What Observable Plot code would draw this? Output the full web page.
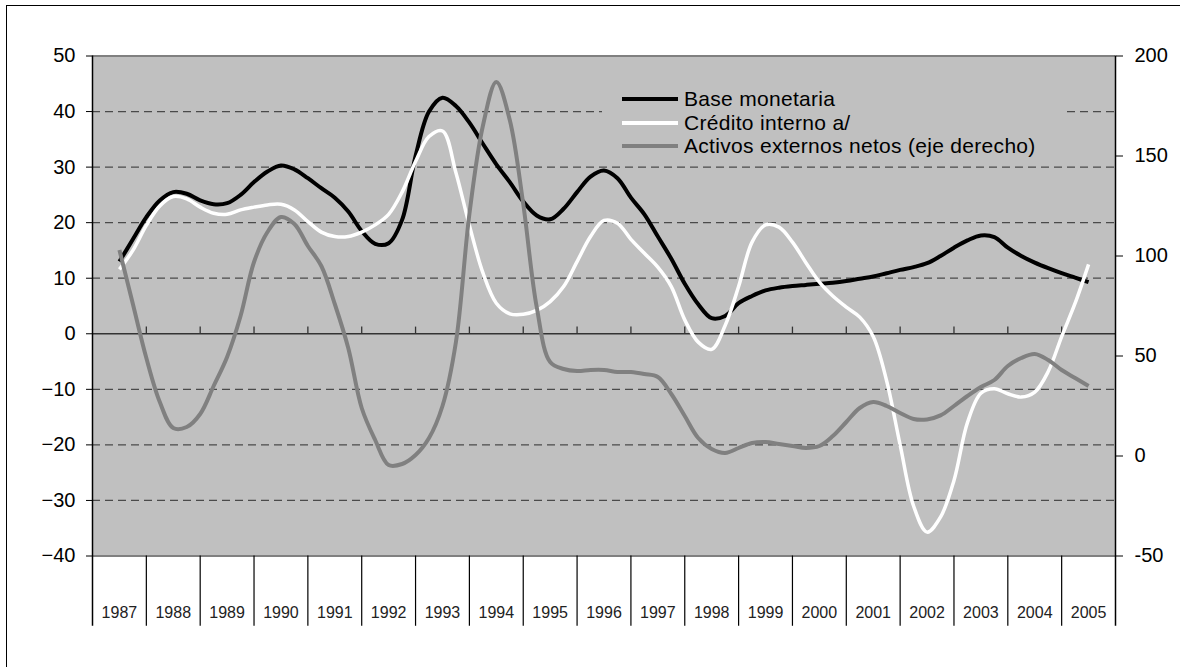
<!DOCTYPE html>
<html>
<head>
<meta charset="utf-8">
<script src="https://cdn.jsdelivr.net/npm/d3@7"></script>
<script src="https://cdn.jsdelivr.net/npm/@observablehq/plot@0.6"></script>
<style>
  html, body { margin: 0; padding: 0; background: #fff; overflow: hidden; }
  #wrap { position: relative; width: 1180px; height: 667px; font-family: "Liberation Sans", Arial, sans-serif; }
  #frame { position: absolute; left: 6px; top: 5px; width: 2000px; height: 2000px;
           border-left: 1.5px solid #000; border-top: 1.5px solid #000; pointer-events: none; }
  #legend { position: absolute; left: 602px; top: 86px; width: 462px; height: 72px; background: #c0c0c0; }
  .row { position: absolute; left: 0; height: 24px; width: 100%; }
  .swatch { position: absolute; left: 20px; top: 10px; width: 56px; height: 4px; }
  .lab { position: absolute; left: 82px; top: 0; line-height: 24px; font-size: 21px; letter-spacing: 0.3px; color: #000; white-space: nowrap; }
</style>
</head>
<body>
<div id="wrap"><div id="frame"></div><div id="chart"></div><div id="legend"></div></div>
<script>
// Year category labels
const yearLabels = ["1987","1988","1989","1990","1991","1992","1993","1994","1995","1996",
                    "1997","1998","1999","2000","2001","2002","2003","2004","2005"];
// Quarterly time grid (mid-1987 to mid-2005)
const times = d3.range(1987.5, 2005.51, 0.25);

// Base monetaria (left axis, %)
const baseMonetaria = [
  13.0, 17.0,
  21.0, 24.0, 25.5, 25.2,
  24.0, 23.3, 23.5, 25.0,
  27.3, 29.2, 30.3, 29.6,
  28.0, 26.2, 24.5, 22.0,
  18.5, 16.2, 16.3, 20.5,
  32.0, 40.0, 42.5, 41.0,
  38.0, 34.2, 30.5, 27.3,
  23.8, 21.3, 20.6, 22.5,
  25.5, 28.3, 29.4, 28.0,
  24.5, 21.5, 17.5, 13.5,
  9.0, 5.3, 2.8, 3.2,
  5.5, 6.8, 7.8, 8.3,
  8.6, 8.8, 9.0, 9.2,
  9.5, 9.9, 10.3, 10.9,
  11.5, 12.0, 12.7, 14.0,
  15.5, 16.8, 17.7, 17.4,
  15.5, 14.0, 12.8, 11.8,
  10.9, 10.1, 9.3
];
// Crédito interno a/ (left axis, %)
const creditoInterno = [
  11.6, 15.0,
  19.5, 23.0, 24.7, 24.3,
  22.8, 21.7, 21.5, 22.3,
  22.8, 23.2, 23.3, 22.3,
  20.2, 18.3, 17.5, 17.5,
  18.3, 19.6, 21.5, 25.5,
  31.0, 35.5, 36.5, 29.0,
  19.5, 11.0, 5.5, 3.6,
  3.5, 4.2, 5.8, 8.5,
  13.0, 17.5, 20.4, 19.9,
  17.0, 14.5, 12.0, 8.5,
  2.5, -1.5, -2.8, 1.5,
  8.5, 16.5, 19.6, 19.2,
  16.5, 12.8, 9.3, 6.8,
  4.8, 3.0, -0.5, -8.5,
  -20.0, -31.0, -35.7, -33.0,
  -26.4, -16.0, -10.7, -9.9,
  -10.8, -11.4, -10.5, -6.8,
  -0.5, 5.5, 12.5
];
// Activos externos netos (right axis)
const activosExternos = [
  103, 76,
  49, 27, 14, 14.5,
  21, 35, 49.5, 70,
  97, 112, 119.5, 116,
  105, 95, 76, 54,
  24, 8, -4.5, -4,
  0.5, 9, 25, 57,
  121, 165, 187, 168,
  126, 74.5, 47, 43.5,
  42.5, 43, 43, 42,
  42, 41, 39.5, 31,
  20, 9, 3.5, 1.5,
  4, 6.5, 7, 6,
  5, 4, 5, 10,
  17, 24, 27, 25,
  21.5, 18.5, 18.3, 20.3,
  25, 30, 34.5, 38,
  45, 49, 51, 48,
  43, 39, 35
];

const leftTicks = [50, 40, 30, 20, 10, 0, -10, -20, -30, -40];
const rightTicks = [200, 150, 100, 50, 0, -50];
const gridValues = [40, 30, 20, 10, -10, -20, -30];

// map right-axis values onto the left scale (200 <-> 50, -50 <-> -40)
const toLeft = r => -40 + (r + 50) * (90 / 250);
const toRight = l => (l + 40) * (250 / 90) - 50;

const series = [
  {name: "Base monetaria", color: "#000000", width: 4, values: baseMonetaria, map: v => v},
  {name: "Crédito interno a/", color: "#ffffff", width: 3.5, values: creditoInterno, map: v => v},
  {name: "Activos externos netos (eje derecho)", color: "#808080", width: 4, values: activosExternos, map: toLeft}
];
const rows = series.flatMap(s => times.map((t, i) => ({t, v: s.map(s.values[i]), name: s.name})));

const years = yearLabels.map(Number);
const bounds = [...years, years[years.length - 1] + 1];
const inner = bounds.slice(1, -1);
const yBottomExt = -52.65; // bottom of the category boxes (below the plot area)

const chart = Plot.plot({
  width: 1180,
  height: 667,
  marginLeft: 92,
  marginRight: 65,
  marginTop: 55.5,
  marginBottom: 111.5,
  style: {fontFamily: "'Liberation Sans', Arial, sans-serif", fontSize: "20px", background: "white", overflow: "visible"},
  x: {domain: [1987, 2006], axis: null},
  y: {domain: [-40, 50]},
  marks: [
    Plot.frame({fill: "#c0c0c0", stroke: null}),
    Plot.ruleY(gridValues, {stroke: "#4a4a4a", strokeWidth: 1.3, strokeDasharray: "8,5"}),
    Plot.ruleY([0], {stroke: "#333", strokeWidth: 1.5}),
    Plot.ruleX(inner, {y1: 0, y2: 1.2, stroke: "#333", strokeWidth: 1.3}),
    Plot.ruleY([50, -40], {stroke: "#808080", strokeWidth: 2}),
    Plot.ruleX(inner, {y1: -40, y2: yBottomExt, stroke: "#000", strokeWidth: 1.2}),
    Plot.ruleX([bounds[0], bounds[bounds.length - 1]], {y1: 50, y2: yBottomExt, stroke: "#000", strokeWidth: 1.5}),
    Plot.axisY({anchor: "left", ticks: leftTicks, tickSize: 6, tickPadding: 11, label: null, fontSize: 20, stroke: "#000"}),
    Plot.axisY({anchor: "right", ticks: rightTicks.map(toLeft), tickFormat: d => String(Math.round(toRight(d))),
                tickSize: 7, tickPadding: 12, label: null, fontSize: 20, stroke: "#000"}),
    Plot.text(yearLabels, {x: d => +d + 0.5, y: -40, dy: 57, text: d => d, fontSize: 16, fill: "#222"}),
    ...series.map(s => Plot.line(rows.filter(r => r.name === s.name), {
      x: "t", y: "v", stroke: s.color, strokeWidth: s.width, curve: "catmull-rom",
      strokeLinejoin: "round", strokeLinecap: "butt"
    }))
  ]
});
document.getElementById("chart").appendChild(chart);

const legend = document.getElementById("legend");
series.forEach((s, i) => {
  const row = document.createElement("div");
  row.className = "row";
  row.style.top = (1 + i * 23.5) + "px";
  const sw = document.createElement("div");
  sw.className = "swatch";
  sw.style.background = s.color;
  const lab = document.createElement("div");
  lab.className = "lab";
  lab.textContent = s.name;
  row.appendChild(sw);
  row.appendChild(lab);
  legend.appendChild(row);
});
</script>
</body>
</html>
